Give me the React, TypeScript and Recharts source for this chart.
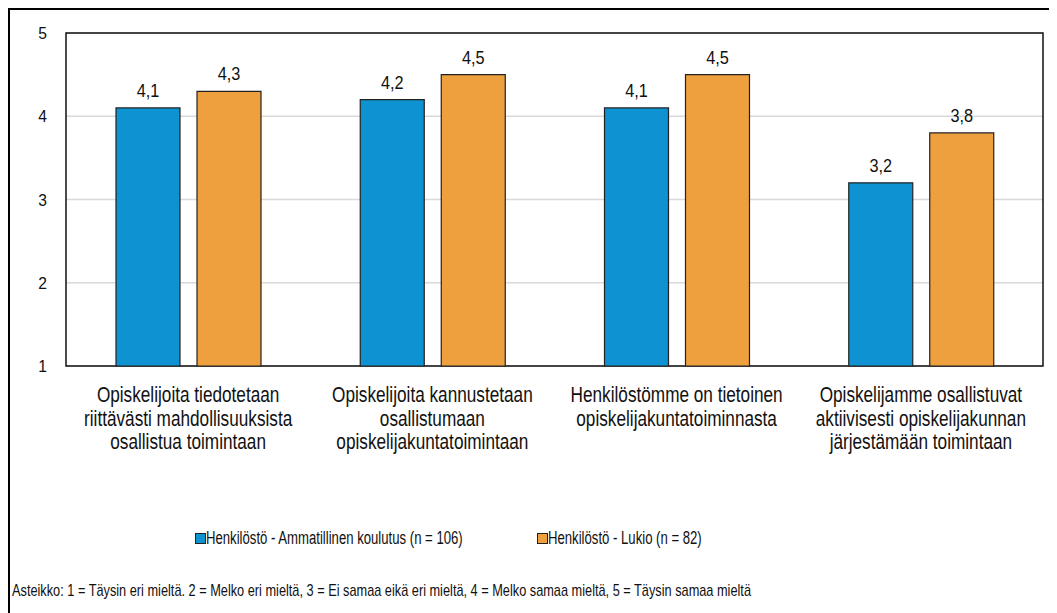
import React from "react";
import { BarChart, Bar, XAxis, YAxis, CartesianGrid, LabelList, ReferenceArea } from "recharts";

const categories = [
  "Opiskelijoita tiedotetaan\nriittävästi mahdollisuuksista\nosallistua toimintaan",
  "Opiskelijoita kannustetaan\nosallistumaan\nopiskelijakuntatoimintaan",
  "Henkilöstömme on tietoinen\nopiskelijakuntatoiminnasta",
  "Opiskelijamme osallistuvat\naktiivisesti opiskelijakunnan\njärjestämään toimintaan",
];
const ammatillinen = [4.1, 4.2, 4.1, 3.2];
const lukio = [4.3, 4.5, 4.5, 3.8];
const seriesNames = ["Henkilöstö - Ammatillinen koulutus (n = 106)", "Henkilöstö - Lukio (n = 82)"];
const yTicks = [1, 2, 3, 4, 5];
const footnote =
  "Asteikko: 1 = Täysin eri mieltä. 2 = Melko eri mieltä, 3 = Ei samaa eikä eri mieltä, 4 = Melko samaa mieltä, 5 = Täysin samaa mieltä";

const BLUE = "#0F92D1";
const ORANGE = "#EFA03E";
const FONT = "'Liberation Sans', Arial, sans-serif";
const SX = 0.8;

const data = categories.map((c, i) => ({ cat: c, a: ammatillinen[i], l: lukio[i] }));

const fmt = (v: any) => String(v).replace(".", ",");

const SText = ({ x, y, children, size, anchor = "middle", sx = SX }: any) => (
  <text
    transform={`translate(${x},${y}) scale(${sx},1)`}
    x={0}
    y={0}
    textAnchor={anchor}
    fill="#111"
    fontSize={size}
    fontFamily={FONT}
  >
    {children}
  </text>
);

const CatTick = (props: any) => {
  const { x, y, payload } = props;
  const lines = String(payload.value).split("\n");
  return (
    <g>
      {lines.map((ln, i) => (
        <SText key={i} x={x} y={y + 28 + i * 23.5} size={21.5}>
          {ln}
        </SText>
      ))}
    </g>
  );
};

const YTick = (props: any) => {
  const { x, y, payload } = props;
  return (
    <SText x={x} y={y + 6} size={17} anchor="end" sx={0.92}>
      {payload.value}
    </SText>
  );
};

const BarLabel = (props: any) => {
  const { x, y, width, value } = props;
  return (
    <SText x={Number(x) + Number(width) / 2} y={Number(y) - 11} size={18.5} sx={0.88}>
      {fmt(value)}
    </SText>
  );
};

export default function App() {
  const legendPos = [
    { sq: 185, tx: 196 },
    { sq: 527, tx: 538 },
  ];
  return (
    <div
      style={{
        position: "relative",
        width: 1049,
        height: 605,
        borderLeft: "2px solid #000",
        borderTop: "2px solid #000",
        boxSizing: "border-box",
        fontFamily: FONT,
        background: "#fff",
      }}
    >
      <BarChart
        width={1047}
        height={603}
        data={data}
        margin={{ top: 23, right: 14, bottom: 0, left: 0 }}
        barSize={64}
        barGap={17}
      >
        <CartesianGrid vertical={false} stroke="#d9d9d9" strokeWidth={1.5} />
        <XAxis
          dataKey="cat"
          tick={<CatTick />}
          tickLine={false}
          axisLine={false}
          interval={0}
          height={247}
        />
        <YAxis
          domain={[1, 5]}
          ticks={yTicks}
          tickLine={false}
          axisLine={false}
          tickSize={0}
          tickMargin={19}
          width={56}
          tick={<YTick />}
        />
        <Bar dataKey="a" name={seriesNames[0]} fill={BLUE} stroke="#222" strokeWidth={1.2} isAnimationActive={false}>
          <LabelList dataKey="a" content={<BarLabel />} />
        </Bar>
        <Bar dataKey="l" name={seriesNames[1]} fill={ORANGE} stroke="#222" strokeWidth={1.2} isAnimationActive={false}>
          <LabelList dataKey="l" content={<BarLabel />} />
        </Bar>
        <ReferenceArea y1={1} y2={5} fill="none" stroke="#111" strokeWidth={1.5} ifOverflow="visible" />
      </BarChart>
      {seriesNames.map((n, i) => (
        <React.Fragment key={i}>
          <div
            style={{
              position: "absolute",
              left: legendPos[i].sq,
              top: 523,
              width: 9,
              height: 9,
              background: i === 0 ? BLUE : ORANGE,
              border: "1px solid #222",
            }}
          />
          <div
            style={{
              position: "absolute",
              left: legendPos[i].tx,
              top: 518,
              fontSize: 18,
              lineHeight: "21px",
              color: "#111",
              whiteSpace: "nowrap",
              transform: "scaleX(0.73)",
              transformOrigin: "0 0",
            }}
          >
            {n}
          </div>
        </React.Fragment>
      ))}
      <div
        style={{
          position: "absolute",
          left: 2,
          top: 571,
          fontSize: 17,
          lineHeight: "20px",
          color: "#111",
          whiteSpace: "nowrap",
          transform: "scaleX(0.75)",
          transformOrigin: "0 0",
        }}
      >
        {footnote}
      </div>
    </div>
  );
}
